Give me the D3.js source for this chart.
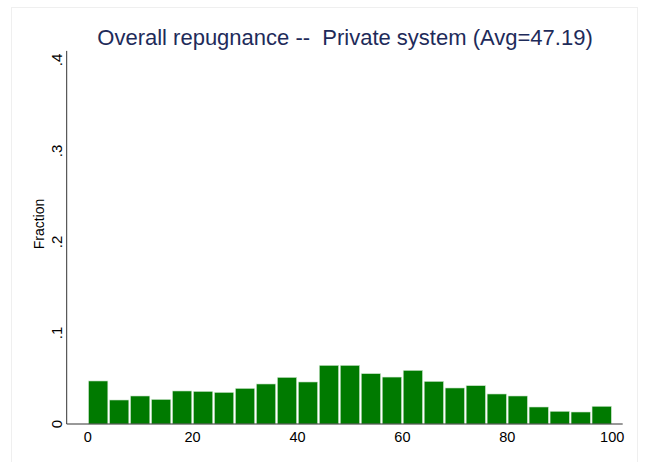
<html>
<script src="https://d3js.org/d3.v7.min.js"></script>
<style>
  body { margin: 0; background: #fff; }
  .chart text { font-family: "Liberation Sans", Arial, sans-serif; fill: #000; }
</style>
<body>
<svg class="chart" width="645" height="462"></svg>
<script>
// histogram bins of width 4 on 0..100
var binStarts = [0,4,8,12,16,20,24,28,32,36,40,44,48,52,56,60,64,68,72,76,80,84,88,92,96];
var binWidth = 4;
var fractions = [0.0473,0.0264,0.0308,0.0271,0.0363,0.0359,0.0348,0.0392,0.0440,0.0513,
                 0.0462,0.0645,0.0645,0.0554,0.0516,0.0590,0.0469,0.0396,0.0422,0.0330,
                 0.0308,0.0187,0.0140,0.0132,0.0195];
var xTicks = [0,20,40,60,80,100];
var yTicks = [0,0.1,0.2,0.3,0.4];
var yTickLabels = ["0",".1",".2",".3",".4"];
var title = "Overall repugnance --  Private system (Avg=47.19)";

var svg = d3.select("svg");

var x = d3.scaleLinear().domain([-4, 102]).range([66.7, 622.7]);
var y = d3.scaleLinear().domain([0, 0.4]).range([424, 60]);

// faint outer frame
svg.append("rect")
  .attr("x", 11.5).attr("y", 7.5)
  .attr("width", 626).attr("height", 470)
  .attr("fill", "none").attr("stroke", "#efefef");

// bars
svg.append("g").selectAll("rect")
  .data(binStarts)
  .enter().append("rect")
  .attr("x", function(d) { return x(d) + 0.8; })
  .attr("width", function(d) { return x(d + binWidth) - x(d) - 1.6; })
  .attr("y", function(d, i) { return y(fractions[i]); })
  .attr("height", function(d, i) { return y(0) - y(fractions[i]); })
  .attr("fill", "#007a00")
  .attr("stroke", "#d6ead6")
  .attr("stroke-width", 0.6);

// axes lines (no ticks)
svg.append("line")
  .attr("x1", x(-4)).attr("x2", x(-4))
  .attr("y1", y(0.41)).attr("y2", y(0))
  .attr("stroke", "#333").attr("stroke-width", 1);
svg.append("line")
  .attr("x1", x(-4)).attr("x2", x(102))
  .attr("y1", y(0)).attr("y2", y(0))
  .attr("stroke", "#333").attr("stroke-width", 1);

// x labels
svg.append("g").selectAll("text")
  .data(xTicks)
  .enter().append("text")
  .attr("x", function(d) { return x(d); })
  .attr("y", 442)
  .attr("text-anchor", "middle")
  .style("font-size", "14.5px")
  .text(function(d) { return d; });

// y labels, rotated
svg.append("g").selectAll("text")
  .data(yTicks)
  .enter().append("text")
  .attr("transform", function(d) { return "translate(62," + y(d) + ") rotate(-90)"; })
  .attr("text-anchor", "middle")
  .style("font-size", "15px")
  .text(function(d, i) { return yTickLabels[i]; });

// y title
svg.append("text")
  .attr("transform", "translate(44,224) rotate(-90)")
  .attr("text-anchor", "middle")
  .style("font-size", "14px")
  .text("Fraction");

// chart title
svg.append("text")
  .attr("x", 345)
  .attr("y", 45)
  .attr("text-anchor", "middle")
  .style("font-size", "22px")
  .style("white-space", "pre")
  .style("fill", "#1e2b5a")
  .text(title);
</script>
</body>
</html>
